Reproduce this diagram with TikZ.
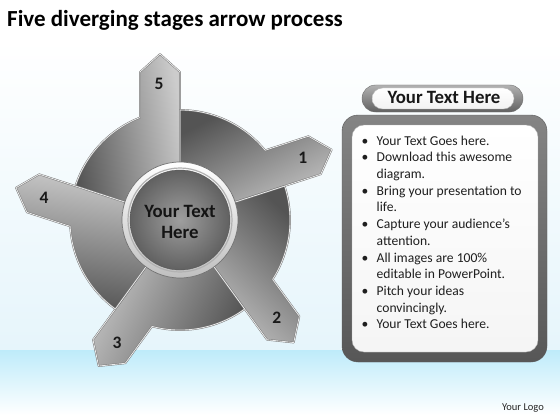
\documentclass[tikz,border=0pt]{standalone}
\usepackage{fontspec}
\setmainfont{Carlito}
\begin{document}
\begin{tikzpicture}[x=1pt,y=-1pt,
  piece/.style={shade, bottom color=black!20, top color=black!67, draw=black!55, double=white!92!black, double distance=0.8pt, line width=0.45pt, line join=round},
  armlabel/.style={font=\fontsize{17.5}{17.5}\selectfont\bfseries, text=black!90},
  bullettext/.style={font=\fontsize{13.6}{16.7}\selectfont, text=black!88, align=left, inner sep=0pt}
]
\useasboundingbox (0,0) rectangle (560,420);
% background
\fill[white] (0,0) rectangle (560,420);
\shade[top color=white, bottom color={rgb,255:red,230;green,245;blue,251}] (0,40) rectangle (560,350);
\shade[top color={rgb,255:red,190;green,235;blue,250}, bottom color=white] (0,350) rectangle (560,415);
\fill[white] (0,415) rectangle (560,420);

% title
\node[anchor=base west, inner sep=0pt, font=\fontsize{23}{27}\selectfont\bfseries] (title) at (7,27) {Five diverging stages arrow process};

% wheel
\begin{scope}[shift={(180,220)}, y=1pt]
  \foreach \k/\lab in {0/5,1/1,2/2,3/3,4/4}{
    \pgfmathsetmacro{\th}{90-72*\k}
    \pgfmathsetmacro{\sa}{\th+10}
    \begin{scope}[rotate=\th]
      \path[piece, shading angle=\sa] (0,0) -- (148,0) -- (166,20) -- (148,40) -- (102.5,40)
        arc[start angle=21.32, end angle=72, radius=110] -- cycle;
      \node[armlabel] (lab\lab) at (136,21) {\lab};
    \end{scope}
  }
  % centre ring
  \shade[top color=white, bottom color=black!25, draw=black!55, line width=0.7pt] (0,0) circle[radius=58];
  \draw[black!30, line width=1.2pt] (0,0) circle[radius=52];
  \shade[inner color=black!38, outer color=black!62] (0,0) circle[radius=50];
  \draw[black!65, line width=0.4pt] (0,0) circle[radius=50];
\end{scope}
\node[align=center, font=\fontsize{18.8}{20.5}\selectfont\bfseries, text=black!92] (centre) at (180,222) {Your Text\\Here};

% header pill
\shade[top color=black!30, bottom color=black!62, draw=black!55, rounded corners=13.5pt] (362,85) rectangle (523,112);
\shade[top color=white, bottom color=black!5, draw=black!30, rounded corners=10.5pt] (372,88) rectangle (514,109);
\node[anchor=base, inner sep=0pt, font=\fontsize{18.8}{20}\selectfont\bfseries, text=black!90] (head) at (444,103.5) {Your Text Here};

% text box
\shade[top color=black!48, bottom color=black!66, draw=black!65, rounded corners=16pt] (342,115) rectangle (547,362);
\shade[top color=white, bottom color=black!4, draw=black!30, rounded corners=12pt] (352,125) rectangle (538,352);
\newcommand{\bl}{\makebox[15pt][l]{\textbullet}}
\newcommand{\ct}{\hspace*{15pt}}
\node[bullettext, anchor=north west] (list) at (361.5,135.5) {%
\bl Your Text Goes here.\\
\bl Download this awesome\\
\ct diagram.\\
\bl Bring your presentation to\\
\ct life.\\
\bl Capture your audience’s\\
\ct attention.\\
\bl All images are 100\%\\
\ct editable in PowerPoint.\\
\bl Pitch your ideas\\
\ct convincingly.\\
\bl Your Text Goes here.};

% logo
\node[anchor=base, inner sep=0pt, font=\fontsize{10.5}{12}\selectfont, text=black!85] (logo) at (523,410) {Your Logo};
\end{tikzpicture}
\end{document}
